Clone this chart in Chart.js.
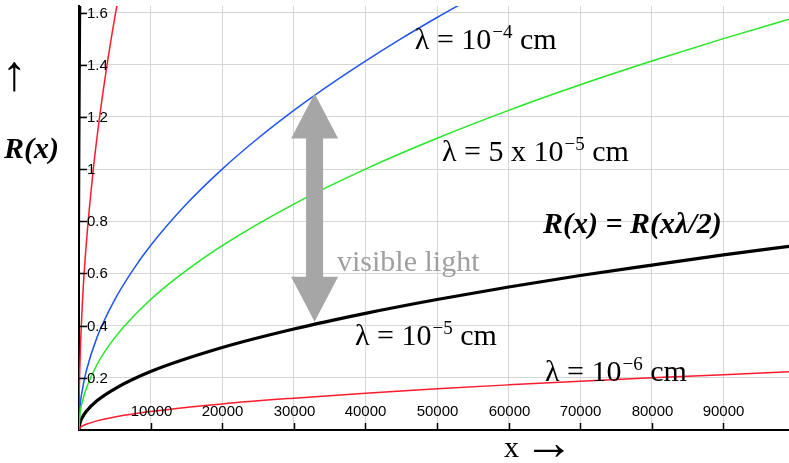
<!DOCTYPE html>
<html>
<head>
<meta charset="utf-8">
<title>R(x) = R(xλ/2)</title>
<script src="https://cdn.jsdelivr.net/npm/chart.js@4"></script>
<style>
    html, body { margin: 0; padding: 0; background: #ffffff; }
    #wrap { position: relative; width: 789px; height: 463px; }
</style>
</head>
<body>
<div id="wrap"><canvas id="radiusChart"></canvas></div>
<script>
// Axes
const X_MAX = 99150;
const Y_MAX = 1.625;
const xTickValues = [10000, 20000, 30000, 40000, 50000, 60000, 70000, 80000, 90000];
const yTickValues = [0.2, 0.4, 0.6, 0.8, 1, 1.2, 1.4, 1.6];

// lambda = 1e-4 cm (blue)
const xBlue = [0, 100, 500, 1000, 2500, 5000, 7500, 10000, 15000, 20000, 25000, 30000, 35000, 40000, 45000, 50000, 55000];
const rBlue = [0, 0.071, 0.158, 0.224, 0.354, 0.5, 0.612, 0.707, 0.866, 1.0, 1.118, 1.225, 1.323, 1.414, 1.5, 1.581, 1.658];

// lambda = 5e-5 cm (green)
const xGreen = [0, 100, 500, 1000, 2500, 5000, 10000, 15000, 20000, 30000, 40000, 50000, 60000, 70000, 80000, 90000, 100000];
const rGreen = [0, 0.05, 0.112, 0.158, 0.25, 0.354, 0.5, 0.612, 0.707, 0.866, 1.0, 1.118, 1.225, 1.323, 1.414, 1.5, 1.581];

// lambda = 1e-5 cm (black, thick)
const xBlack = [0, 100, 500, 1000, 2500, 5000, 10000, 20000, 30000, 40000, 50000, 60000, 70000, 80000, 90000, 100000];
const rBlack = [0, 0.022, 0.05, 0.071, 0.112, 0.158, 0.224, 0.316, 0.387, 0.447, 0.5, 0.548, 0.592, 0.632, 0.671, 0.707];

// lambda = 1e-6 cm (red, flat)
const xRedLow = [0, 100, 500, 1000, 2500, 5000, 10000, 20000, 30000, 40000, 50000, 60000, 70000, 80000, 90000, 100000];
const rRedLow = [0, 0.007, 0.016, 0.022, 0.035, 0.05, 0.071, 0.1, 0.122, 0.141, 0.158, 0.173, 0.187, 0.2, 0.212, 0.224];

// steep curves along the R axis
const xRedHigh = [0, 20, 100, 500, 1000, 2000, 3000, 4000, 5000, 6000];
const rRedHigh = [0, 0.1, 0.224, 0.5, 0.707, 1.0, 1.225, 1.414, 1.581, 1.732];
const xBlackHigh = [0, 10, 50, 100, 150, 200, 250];
const rBlackHigh = [0, 0.354, 0.79, 1.118, 1.369, 1.581, 1.768];

// Double arrow marking the visible range
const ARROW_X = 32900;
const ARROW_TOP = 1.29;
const ARROW_BOTTOM = 0.415;

const SERIF = '"Liberation Serif", "Times New Roman", serif';
const SANS = '"Liberation Sans", Arial, sans-serif';

function points(xs, rs) {
    return xs.map((x, i) => ({ x: x, y: rs[i] }));
}

function curve(xs, rs, color, width) {
    return {
        data: points(xs, rs),
        borderColor: color,
        borderWidth: width,
        pointRadius: 0,
        fill: false,
        cubicInterpolationMode: 'monotone'
    };
}

// Text like "λ = 10⁻⁴ cm" with a real superscript
function drawPowerLabel(ctx, x, y, before, sup, after) {
    ctx.font = '30px ' + SERIF;
    ctx.fillText(before, x, y);
    let cx = x + ctx.measureText(before).width + 1;
    ctx.font = '19px ' + SERIF;
    ctx.fillText(sup, cx, y - 11);
    cx += ctx.measureText(sup).width;
    ctx.font = '30px ' + SERIF;
    ctx.fillText(after, cx, y);
}

const overlay = {
    id: 'overlay',
    afterDraw(chart) {
        const { ctx, chartArea, scales: { x, y } } = chart;
        ctx.save();

        // inner tick marks and labels
        ctx.strokeStyle = '#000000';
        ctx.lineWidth = 1.5;
        ctx.fillStyle = '#000000';
        ctx.font = '15px ' + SANS;
        ctx.textAlign = 'center';
        ctx.textBaseline = 'middle';
        xTickValues.forEach(v => {
            const px = Math.round(x.getPixelForValue(v)) + 0.5;
            ctx.beginPath();
            ctx.moveTo(px, chartArea.bottom - 7);
            ctx.lineTo(px, chartArea.bottom);
            ctx.stroke();
            ctx.fillText(String(v), px, chartArea.bottom - 18);
        });
        ctx.textAlign = 'left';
        yTickValues.forEach(v => {
            const py = Math.round(y.getPixelForValue(v)) + 0.5;
            ctx.beginPath();
            ctx.moveTo(chartArea.left, py);
            ctx.lineTo(chartArea.left + 8, py);
            ctx.stroke();
            ctx.fillText(String(v), chartArea.left + 8, py);
        });

        // gray double arrow
        const ax = x.getPixelForValue(ARROW_X);
        const top = y.getPixelForValue(ARROW_TOP);
        const bot = y.getPixelForValue(ARROW_BOTTOM);
        const headLen = 45, headHalf = 23.5, shaftHalf = 8.5;
        ctx.fillStyle = '#a6a6a6';
        ctx.beginPath();
        ctx.moveTo(ax, top);
        ctx.lineTo(ax + headHalf, top + headLen);
        ctx.lineTo(ax + shaftHalf, top + headLen);
        ctx.lineTo(ax + shaftHalf, bot - headLen);
        ctx.lineTo(ax + headHalf, bot - headLen);
        ctx.lineTo(ax, bot);
        ctx.lineTo(ax - headHalf, bot - headLen);
        ctx.lineTo(ax - shaftHalf, bot - headLen);
        ctx.lineTo(ax - shaftHalf, top + headLen);
        ctx.lineTo(ax - headHalf, top + headLen);
        ctx.closePath();
        ctx.fill();

        // curve labels
        ctx.textAlign = 'left';
        ctx.textBaseline = 'alphabetic';
        ctx.fillStyle = '#000000';
        drawPowerLabel(ctx, x.getPixelForValue(46900), y.getPixelForValue(1.46), 'λ = 10', '−4', ' cm');
        drawPowerLabel(ctx, x.getPixelForValue(50700), y.getPixelForValue(1.032), 'λ = 5 x 10', '−5', ' cm');
        drawPowerLabel(ctx, x.getPixelForValue(38550), y.getPixelForValue(0.326), 'λ = 10', '−5', ' cm');
        drawPowerLabel(ctx, x.getPixelForValue(65080), y.getPixelForValue(0.188), 'λ = 10', '−6', ' cm');

        ctx.font = 'italic bold 30px ' + SERIF;
        ctx.fillText('R(x) = R(xλ/2)', x.getPixelForValue(64800), y.getPixelForValue(0.755));

        ctx.fillStyle = '#a0a0a0';
        ctx.font = '30px ' + SERIF;
        ctx.fillText('visible light', x.getPixelForValue(36030), y.getPixelForValue(0.609));

        // axis titles
        ctx.fillStyle = '#000000';
        ctx.font = 'italic bold 30px ' + SERIF;
        ctx.fillText('R(x)', 4, 158);
        ctx.font = '50px ' + SERIF;
        ctx.fillText('↑', 2, 90);
        ctx.font = '30px ' + SERIF;
        ctx.fillText('x', 504, 457);
        ctx.font = '50px ' + SERIF;
        ctx.fillText('→', 524, 459);

        ctx.restore();
    }
};

const onlyTicks = values => scale => {
    scale.ticks = values.map(v => ({ value: v }));
};

document.addEventListener('DOMContentLoaded', function() {
    const canvas = document.getElementById('radiusChart');
    new Chart(canvas, {
        type: 'line',
        data: {
            datasets: [
                curve(xRedLow, rRedLow, '#ff1a2e', 1.5),
                curve(xGreen, rGreen, '#22e822', 1.5),
                curve(xBlue, rBlue, '#1f55f0', 1.5),
                curve(xRedHigh, rRedHigh, '#ff1a2e', 1.5),
                curve(xBlackHigh, rBlackHigh, '#000000', 1.5),
                curve(xBlack, rBlack, '#000000', 3.2)
            ]
        },
        options: {
            responsive: true,
            maintainAspectRatio: false,
            animation: false,
            events: [],
            layout: { padding: { left: 79, top: 6, right: 0, bottom: 33 } },
            scales: {
                x: {
                    type: 'linear',
                    min: 0,
                    max: X_MAX,
                    afterBuildTicks: onlyTicks(xTickValues),
                    ticks: { display: false },
                    grid: { color: '#d6d6d6', lineWidth: 1, drawTicks: false },
                    border: { color: '#000000', width: 2 }
                },
                y: {
                    type: 'linear',
                    min: 0,
                    max: Y_MAX,
                    afterBuildTicks: onlyTicks(yTickValues),
                    ticks: { display: false },
                    grid: { color: '#d6d6d6', lineWidth: 1, drawTicks: false },
                    border: { color: '#000000', width: 2 }
                }
            },
            plugins: {
                legend: { display: false },
                tooltip: { enabled: false }
            }
        },
        plugins: [overlay]
    });
});
</script>
</body>
</html>
